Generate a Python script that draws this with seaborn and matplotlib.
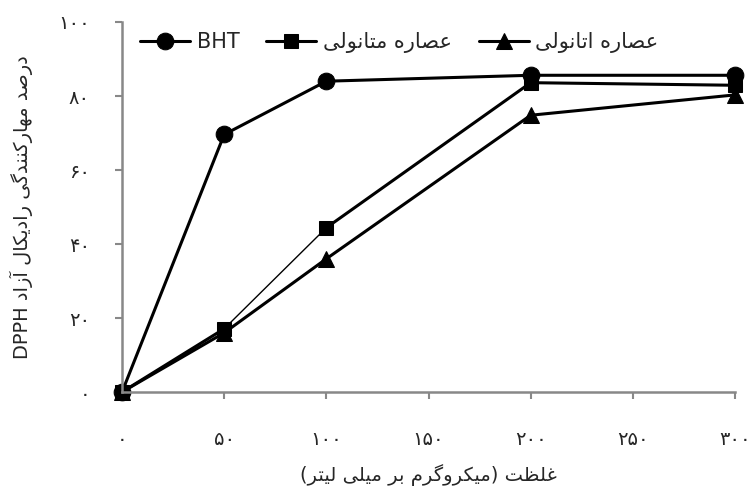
import matplotlib
matplotlib.use('Agg')
import matplotlib.pyplot as plt
import seaborn as sns

# ==========================================
# Data
# ==========================================
conc = [0, 50, 100, 200, 300]
bht = [0, 69.6, 84.0, 85.6, 85.6]
methanol = [0, 17.1, 44.4, 83.6, 82.9]
ethanol = [0, 16.0, 36.0, 74.8, 80.3]

x_ticks = [0, 50, 100, 150, 200, 250, 300]
y_ticks = [0, 20, 40, 60, 80, 100]

label_bht = 'BHT'
label_methanol = 'عصاره متانولی'
label_ethanol = 'عصاره اتانولی'
xlabel = 'غلظت (میکروگرم بر میلی لیتر)'
ylabel = 'درصد مهارکنندگی رادیکال آزاد'
ylabel_latin = 'DPPH'

# ==========================================
# Minimal Persian shaping (matplotlib has no bidi / joining)
# forms: isolated, final, initial, medial
# ==========================================
FORMS = {
    'ا': ('\uFE8D', '\uFE8E', None, None),
    'آ': ('\uFE81', '\uFE82', None, None),
    'ب': ('\uFE8F', '\uFE90', '\uFE91', '\uFE92'),
    'ت': ('\uFE95', '\uFE96', '\uFE97', '\uFE98'),
    'د': ('\uFEA9', '\uFEAA', None, None),
    'ر': ('\uFEAD', '\uFEAE', None, None),
    'ز': ('\uFEAF', '\uFEB0', None, None),
    'ص': ('\uFEB9', '\uFEBA', '\uFEBB', '\uFEBC'),
    'ظ': ('\uFEC5', '\uFEC6', '\uFEC7', '\uFEC8'),
    'ع': ('\uFEC9', '\uFECA', '\uFECB', '\uFECC'),
    'غ': ('\uFECD', '\uFECE', '\uFECF', '\uFED0'),
    'ل': ('\uFEDD', '\uFEDE', '\uFEDF', '\uFEE0'),
    'م': ('\uFEE1', '\uFEE2', '\uFEE3', '\uFEE4'),
    'ن': ('\uFEE5', '\uFEE6', '\uFEE7', '\uFEE8'),
    'ه': ('\uFEE9', '\uFEEA', '\uFEEB', '\uFEEC'),
    'و': ('\uFEED', '\uFEEE', None, None),
    'ک': ('\uFB8E', '\uFB8F', '\uFB90', '\uFB91'),
    'گ': ('\uFB92', '\uFB93', '\uFB94', '\uFB95'),
    'ی': ('\uFBFC', '\uFBFD', '\uFBFE', '\uFBFF'),
}
MIRROR = {'(': ')', ')': '('}


def rtl(text):
    out = []
    for i, ch in enumerate(text):
        if ch not in FORMS:
            out.append(ch)
            continue
        prev = text[i - 1] if i > 0 else ''
        nxt = text[i + 1] if i + 1 < len(text) else ''
        joins_prev = prev in FORMS and FORMS[prev][2] is not None
        joins_next = FORMS[ch][2] is not None and nxt in FORMS
        iso, fin, ini, med = FORMS[ch]
        if joins_prev and joins_next:
            out.append(med)
        elif joins_prev:
            out.append(fin)
        elif joins_next:
            out.append(ini)
        else:
            out.append(iso)
    return ''.join(MIRROR.get(c, c) for c in reversed(out))


def fa_digits(n):
    return str(n).translate(str.maketrans('0123456789', '۰۱۲۳۴۵۶۷۸۹'))


# ==========================================
# Plot
# ==========================================
sns.set_style('ticks')
plt.rcParams['font.family'] = ['DejaVu Sans']

fig = plt.figure(figsize=(7.51, 4.91), dpi=100)
ax = fig.add_axes([0.1625, 0.2016, 0.8162, 0.7536])

line_kw = dict(color='black', linewidth=2.2, markeredgecolor='black',
               clip_on=False, ax=ax)
sns.lineplot(x=conc, y=bht, marker='o', markersize=12, label=label_bht, **line_kw)

# methanol: the 50-100 segment is drawn thinner in the original
sns.lineplot(x=conc[:2], y=methanol[:2], marker='s', markersize=10,
             label=rtl(label_methanol), **line_kw)
sns.lineplot(x=conc[1:3], y=methanol[1:3], color='black', linewidth=1.0,
             clip_on=False, ax=ax)
sns.lineplot(x=conc[2:], y=methanol[2:], marker='s', markersize=10, **line_kw)

sns.lineplot(x=conc, y=ethanol, marker='^', markersize=12, label=rtl(label_ethanol), **line_kw)

ax.set_xlim(0, 300)
ax.set_ylim(0, 100)
ax.set_xticks(x_ticks)
ax.set_xticklabels([fa_digits(v) for v in x_ticks], fontsize=14)
ax.set_yticks(y_ticks)
ax.set_yticklabels([fa_digits(v) for v in y_ticks], fontsize=14)
ax.tick_params(axis='x', direction='out', length=5, width=1.5, color='#888888', pad=22)
ax.tick_params(axis='y', direction='out', length=5, width=1.5, color='#888888', pad=18)

for side in ['top', 'right']:
    ax.spines[side].set_visible(False)
for side in ['left', 'bottom']:
    ax.spines[side].set_color('#888888')
    ax.spines[side].set_linewidth(1.8)

ax.set_xlabel(rtl(xlabel), fontsize=14, labelpad=11)
ax.set_ylabel(ylabel_latin + ' ' + rtl(ylabel), fontsize=14, labelpad=18)

ax.legend_.remove()
handles, labels = ax.get_legend_handles_labels()
fig.legend(handles, labels, loc='center left', bbox_to_anchor=(0.162, 0.913),
           ncol=3, frameon=False, fontsize=15, handlelength=2.4,
           handletextpad=0.3, columnspacing=1.3)

fig.savefig('out.png', dpi=100)
